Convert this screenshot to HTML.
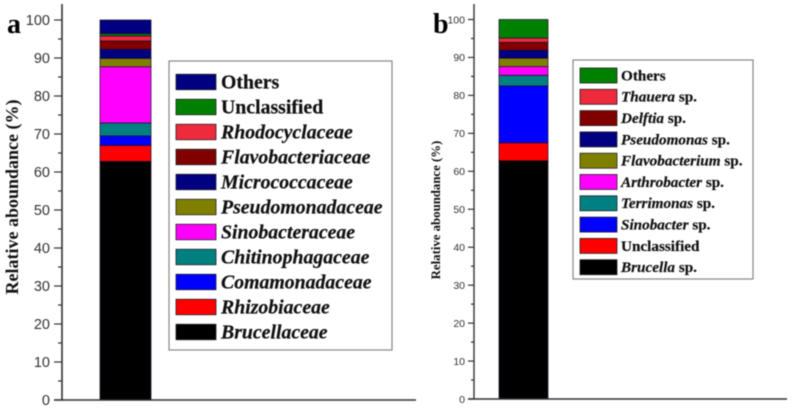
<!DOCTYPE html>
<html>
<head>
<meta charset="utf-8">
<style>
html,body{margin:0;padding:0;background:#fff;width:792px;height:409px;overflow:hidden}
svg{display:block;filter:blur(0.4px)}
text{font-family:"Liberation Serif",serif}
.tick{font-family:"Liberation Sans",sans-serif;fill:#333}
</style>
</head>
<body>
<svg id="chart" xmlns="http://www.w3.org/2000/svg" width="792" height="409" viewBox="0 0 792 409"></svg>
<script>
var ticks = [0, 10, 20, 30, 40, 50, 60, 70, 80, 90, 100];
var minorTicks = [5, 15, 25, 35, 45, 55, 65, 75, 85, 95];

var namesA = ["Brucellaceae", "Rhizobiaceae", "Comamonadaceae", "Chitinophagaceae", "Sinobacteraceae", "Pseudomonadaceae", "Micrococcaceae", "Flavobacteriaceae", "Rhodocyclaceae", "Unclassified", "Others"];
var valuesA = [62.8, 4.2, 2.5, 3.4, 14.8, 2.2, 2.4, 2.2, 1.3, 0.6, 3.6];
var colorsA = ["#000000", "#ff0000", "#0000ff", "#008080", "#ff00ff", "#808000", "#000080", "#800000", "#ee2a3c", "#008000", "#000080"];

var namesB = ["Brucella", "Unclassified", "Sinobacter", "Terrimonas", "Arthrobacter", "Flavobacterium", "Pseudomonas", "Delftia", "Thauera", "Others"];
var valuesB = [62.8, 4.7, 15, 2.8, 2.3, 2.2, 2.1, 2.1, 1.1, 4.9];
var colorsB = ["#000000", "#ff0000", "#0000ff", "#008080", "#ff00ff", "#808000", "#000080", "#800000", "#ee2a3c", "#008000"];
var plainB = ["Unclassified", "Others"];

var svg = document.getElementById('chart');
var NS = 'http://www.w3.org/2000/svg';
function make(tag, attrs, parent) {
  var el = document.createElementNS(NS, tag);
  for (var k in attrs) { el.setAttribute(k, attrs[k]); }
  (parent || svg).appendChild(el);
  return el;
}
function slug(s) {
  return s.toLowerCase().replace(/[^a-z0-9]+/g, '-');
}

function drawPanel(cfg) {
  var y = function (v) { return cfg.y0 - (v / 100) * (cfg.y0 - cfg.y100); };
  var group = make('g', {});
  
  

  var cum = 0;
  cfg.values.forEach(function (v, i) {
    var rect = make('rect', {
      x: cfg.barX, y: y(cum + v), width: cfg.barW, height: y(cum) - y(cum + v),
      fill: cfg.colors[i], stroke: '#1a0a2a', 'stroke-width': 0.7
    }, group);
    
    
    cum += v;
  });

  var yAxis = make('line', {
    x1: cfg.axisX, y1: cfg.axisTop, x2: cfg.axisX, y2: cfg.y0 + 0.5,
    stroke: '#333', 'stroke-width': cfg.axisW
  }, group);
  
  

  var xAxis = make('line', {
    x1: cfg.axisX - cfg.majorLen, y1: cfg.y0, x2: cfg.axisRight, y2: cfg.y0,
    stroke: '#333', 'stroke-width': cfg.axisW
  }, group);
  
  

  ticks.forEach(function (t) {
    var mark = make('line', {
      x1: cfg.axisX - cfg.majorLen, y1: y(t), x2: cfg.axisX, y2: y(t),
      stroke: '#333', 'stroke-width': 1.2
    }, group);
    
    
    var label = make('text', {
      x: cfg.axisX - cfg.majorLen - cfg.tickGap, y: y(t) + cfg.tickSize * 0.36,
      'text-anchor': 'end', 'font-size': cfg.tickSize, 'class': 'tick'
    }, group);
    label.textContent = t;
    
    
  });

  minorTicks.forEach(function (t) {
    var mark = make('line', {
      x1: cfg.axisX - cfg.minorLen, y1: y(t), x2: cfg.axisX, y2: y(t),
      stroke: '#333', 'stroke-width': 1.2
    }, group);
    
    
  });

  var title = make('text', {
    transform: 'translate(' + cfg.titleX + ',' + cfg.titleY + ') rotate(-90)',
    'text-anchor': 'middle', 'font-size': cfg.titleSize, 'font-weight': 'bold', fill: '#111'
  }, group);
  title.textContent = 'Relative abou\u006edance (%)';
  
  

  var letter = make('text', {
    x: cfg.letterX, y: cfg.letterY, 'font-size': cfg.letterSize, 'font-weight': 'bold', fill: '#000'
  }, group);
  letter.textContent = cfg.id;
  
  

  var legend = make('g', {}, group);
  
  
  var box = make('rect', {
    x: cfg.lx, y: cfg.ly, width: cfg.lw, height: cfg.lh,
    fill: '#fff', stroke: '#888', 'stroke-width': 1.2
  }, legend);
  
  

  var n = cfg.names.length;
  cfg.names.forEach(function (name, i) {
    var row = n - 1 - i;
    var cy = cfg.rowStart + row * cfg.rowStep;
    var swatch = make('rect', {
      x: cfg.swX, y: cy - cfg.swH / 2, width: cfg.swW, height: cfg.swH,
      fill: cfg.colors[i], stroke: '#222', 'stroke-width': 0.8
    }, legend);
    
    
    var label = make('text', {
      x: cfg.textX, y: cy + cfg.labelSize * 0.32,
      'font-size': cfg.labelSize, 'font-weight': 'bold', fill: '#111',
      stroke: '#111', 'stroke-width': 0.2
    }, legend);
    
    
    var plain = cfg.plain.indexOf(name) >= 0;
    var main = make('tspan', { 'font-style': plain ? 'normal' : 'italic' }, label);
    main.textContent = name;
    if (cfg.suffix && !plain) {
      var tail = make('tspan', {}, label);
      tail.textContent = cfg.suffix;
    }
  });
}

drawPanel({
  id: 'a', names: namesA, values: valuesA, colors: colorsA,
  plain: ['Unclassified', 'Others'], suffix: '',
  y0: 400, y100: 20, barX: 100, barW: 51,
  axisX: 62, axisTop: 4, axisRight: 416, axisW: 1.6, majorLen: 8, minorLen: 4,
  tickSize: 14.5, tickGap: 4, titleSize: 18, titleX: 18, titleY: 197,
  letterX: 7, letterY: 33, letterSize: 28,
  lx: 169, ly: 61, lw: 223, lh: 289,
  swX: 176, swW: 40, swH: 15.5, rowStart: 82, rowStep: 25,
  textX: 221, labelSize: 19.8
});

drawPanel({
  id: 'b', names: namesB, values: valuesB, colors: colorsB,
  plain: plainB, suffix: ' sp.',
  y0: 399, y100: 19.5, barX: 499, barW: 49,
  axisX: 474, axisTop: 4, axisRight: 787, axisW: 1.4, majorLen: 6, minorLen: 3,
  tickSize: 10.5, tickGap: 3, titleSize: 12.8, titleX: 440, titleY: 210,
  letterX: 433, letterY: 33, letterSize: 28,
  lx: 573, ly: 60, lw: 180, lh: 219,
  swX: 580, swW: 37, swH: 15, rowStart: 75.5, rowStep: 21.3,
  textX: 621, labelSize: 15.2
});
</script>
</body>
</html>
